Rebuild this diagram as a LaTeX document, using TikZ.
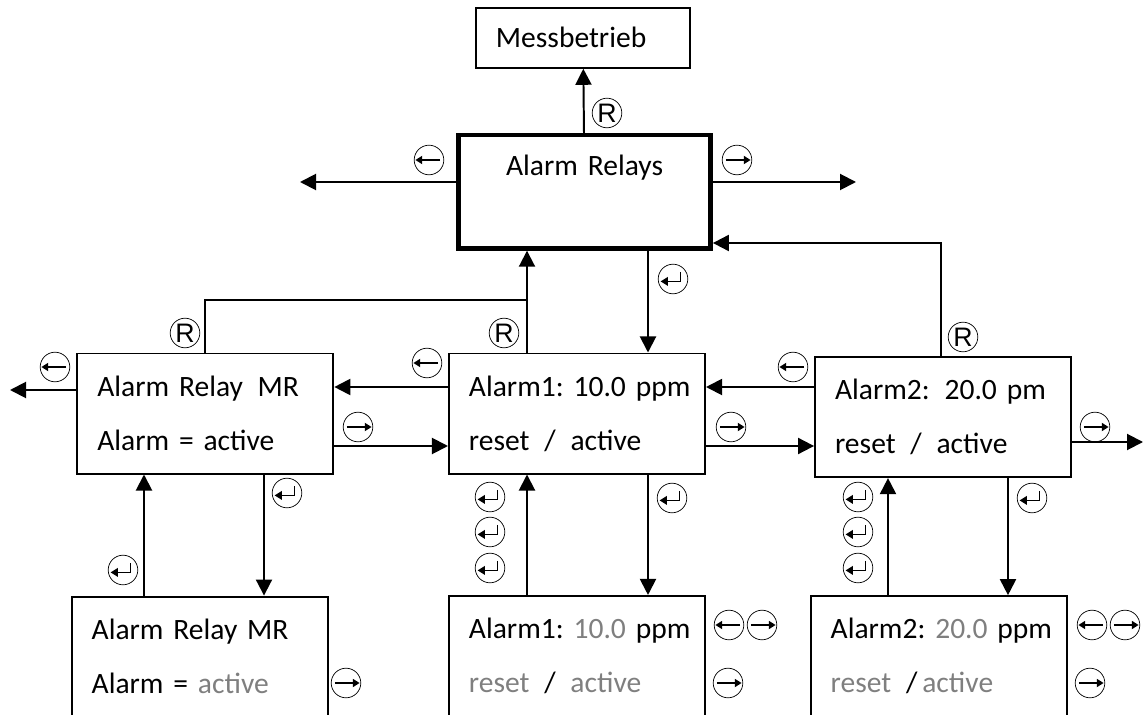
\documentclass[tikz,border=0pt]{standalone}
\usepackage{fontspec}
\setmainfont{Carlito}
\newfontfamily\rfont{Liberation Sans}
\usetikzlibrary{arrows.meta,positioning}
\definecolor{dim}{HTML}{7F7F7F}
\frenchspacing

\tikzstyle{arrow} = [line width=1.4pt,-{Triangle[length=0.4cm,width=0.4cm]}]
\tikzstyle{line} = [line width=1.4pt]
\tikzstyle{box} = [draw, line width=1.4pt, minimum width=6.4cm, minimum height=3cm, text width=5.4cm, inner xsep=0.5cm, align=left, font=\fontsize{21}{38.4}\selectfont]
\tikzstyle{key} = [circle, draw, line width=0.5pt, minimum size=0.74cm, inner sep=0pt]
\tikzstyle{keyr} = [key, font=\rfont\fontsize{19}{19}\selectfont]
\tikzstyle{keyleft} = [key, path picture={\draw[line width=1.2pt,-{Triangle[length=0.17cm,width=0.2cm]}] ([xshift=0.28cm]path picture bounding box.center) -- ([xshift=-0.34cm]path picture bounding box.center);}]
\tikzstyle{keyright} = [key, path picture={\draw[line width=1.2pt,-{Triangle[length=0.17cm,width=0.2cm]}] ([xshift=-0.28cm]path picture bounding box.center) -- ([xshift=0.34cm]path picture bounding box.center);}]
\tikzstyle{keyenter} = [key, path picture={\draw[line width=1.2pt,-{Triangle[length=0.18cm,width=0.21cm]}] ([xshift=0.19cm,yshift=0.18cm]path picture bounding box.center) |- ([xshift=-0.31cm,yshift=-0.06cm]path picture bounding box.center);}]

\begin{document}
\begin{tikzpicture}[x=0.025cm, y=-0.025cm, node distance=9.15cm]
\useasboundingbox (0,0) rectangle (1144,715);
\clip (0,0) rectangle (1144,715);

\node (a1) [box] at (577,413.5) {\mbox{Alarm1: 10.0 ppm}\\\mbox{reset\, / \,active}};
\node (a2) [box, right of=a1, yshift=-0.09cm] {\mbox{Alarm2:\,\ 20.0 pm}\\\mbox{reset\, / \,active}};
\node (mr) [box, left of=a1, xshift=-0.14cm] {\mbox{Alarm Relay\, MR}\\\mbox{Alarm = active}};
\node (relays) [box, line width=3.2pt, minimum width=6.3cm, minimum height=2.83cm, text width=5.3cm, align=center, node distance=5.54cm, above of=a1, xshift=0.19cm] {Alarm Relays\\\mbox{}};
\node (mess) [box, minimum width=5.35cm, minimum height=1.5cm, text width=4.35cm, node distance=3.85cm, above of=relays, xshift=-0.04cm] {Messbetrieb};
\node (ba1) [box, node distance=6.06cm, below of=a1] {\mbox{Alarm1: \textcolor{dim}{10.0} ppm}\\\mbox{\textcolor{dim}{reset}\, / \,\textcolor{dim}{active}}};
\node (ba2) [box, node distance=5.975cm, below of=a2, xshift=-0.11cm] {\mbox{Alarm2: \textcolor{dim}{20.0} ppm}\\\mbox{\textcolor{dim}{reset}\,\ /\,\textcolor{dim}{active}}};
\node (bmr) [box, node distance=6.075cm, below of=mr, xshift=-0.14cm] {\mbox{Alarm Relay MR}\\\mbox{Alarm = \textcolor{dim}{active}}};

\coordinate (outL) at (300,182);
\coordinate (outR) at (856,182);
\coordinate (fb) at (941,243);
\coordinate (jR) at (527,300);
\coordinate (rowU) at (0,387);
\coordinate (rowD) at (0,446);
\coordinate (mrOut) at (10,390);
\coordinate (a2Out) at (1143,442);
\coordinate (up0) at (144,0);
\coordinate (dn0) at (264,0);
\coordinate (up1) at (527,0);
\coordinate (dn1) at (648,0);
\coordinate (up2) at (888,0);
\coordinate (dn2) at (1008,0);

\draw [arrow] (relays) -- (mess);
\draw [arrow] (relays.west |- outL) -- (outL);
\draw [arrow] (relays.east |- outR) -- (outR);
\draw [arrow] (a2.north -| fb) |- (relays.east |- fb);
\draw [line] (mr.north) |- (jR);
\draw [arrow] (a1.north -| up1) -- (relays.south -| up1);
\draw [arrow] (relays.south -| dn1) -- (a1.north -| dn1);
\draw [arrow] (a1.west |- rowU) -- (mr.east |- rowU);
\draw [arrow] (mr.east |- rowD) -- (a1.west |- rowD);
\draw [arrow] (a2.west |- rowU) -- (a1.east |- rowU);
\draw [arrow] (a1.east |- rowD) -- (a2.west |- rowD);
\draw [arrow] (a2.east |- a2Out) -- (a2Out);
\draw [arrow] (mr.west |- mrOut) -- (mrOut);
\draw [arrow] (bmr.north -| up0) -- (mr.south -| up0);
\draw [arrow] (mr.south -| dn0) -- (bmr.north -| dn0);
\draw [arrow] (ba1.north -| up1) -- (a1.south -| up1);
\draw [arrow] (a1.south -| dn1) -- (ba1.north -| dn1);
\draw [arrow] (ba2.north -| up2) -- (a2.south -| up2);
\draw [arrow] (a2.south -| dn2) -- (ba2.north -| dn2);

\node (r1) [keyr] at (607,113) {R};
\node (r2) [keyr] at (963,337) {R};
\node (r3) [keyr] at (185,333) {R};
\node (r4) [keyr] at (504,333) {R};
\node (kl1) [keyleft] at (429,160) {};
\node (kr1) [keyright] at (737,160) {};
\node (kl2) [keyleft] at (427,363) {};
\node (kr2) [keyright] at (358,427) {};
\node (kl3) [keyleft] at (793,367) {};
\node (kr3) [keyright] at (731,427) {};
\node (kr4) [keyright] at (1095,427) {};
\node (kl4) [keyleft] at (55,367) {};
\node (e1) [keyenter] at (673,279) {};
\node (e2) [keyenter] at (287,493) {};
\node (e3) [keyenter] at (123,570) {};
\node (e4) [keyenter] at (672,498) {};
\node (e5) [keyenter] at (1032,498) {};
\foreach \y [count=\i] in {497,532,568} {
  \node (ea\i) [keyenter] at (490,\y) {};
  \node (eb\i) [keyenter] at (858,\y) {};
}
\node (kl5) [keyleft] at (729,625) {};
\node (kr5) [keyright] at (762,625) {};
\node (kr6) [keyright] at (728,683) {};
\node (kl6) [keyleft] at (1092,625) {};
\node (kr7) [keyright] at (1125,625) {};
\node (kr8) [keyright] at (1090,683) {};
\node (kr9) [keyright] at (346,683) {};

\end{tikzpicture}
\end{document}
